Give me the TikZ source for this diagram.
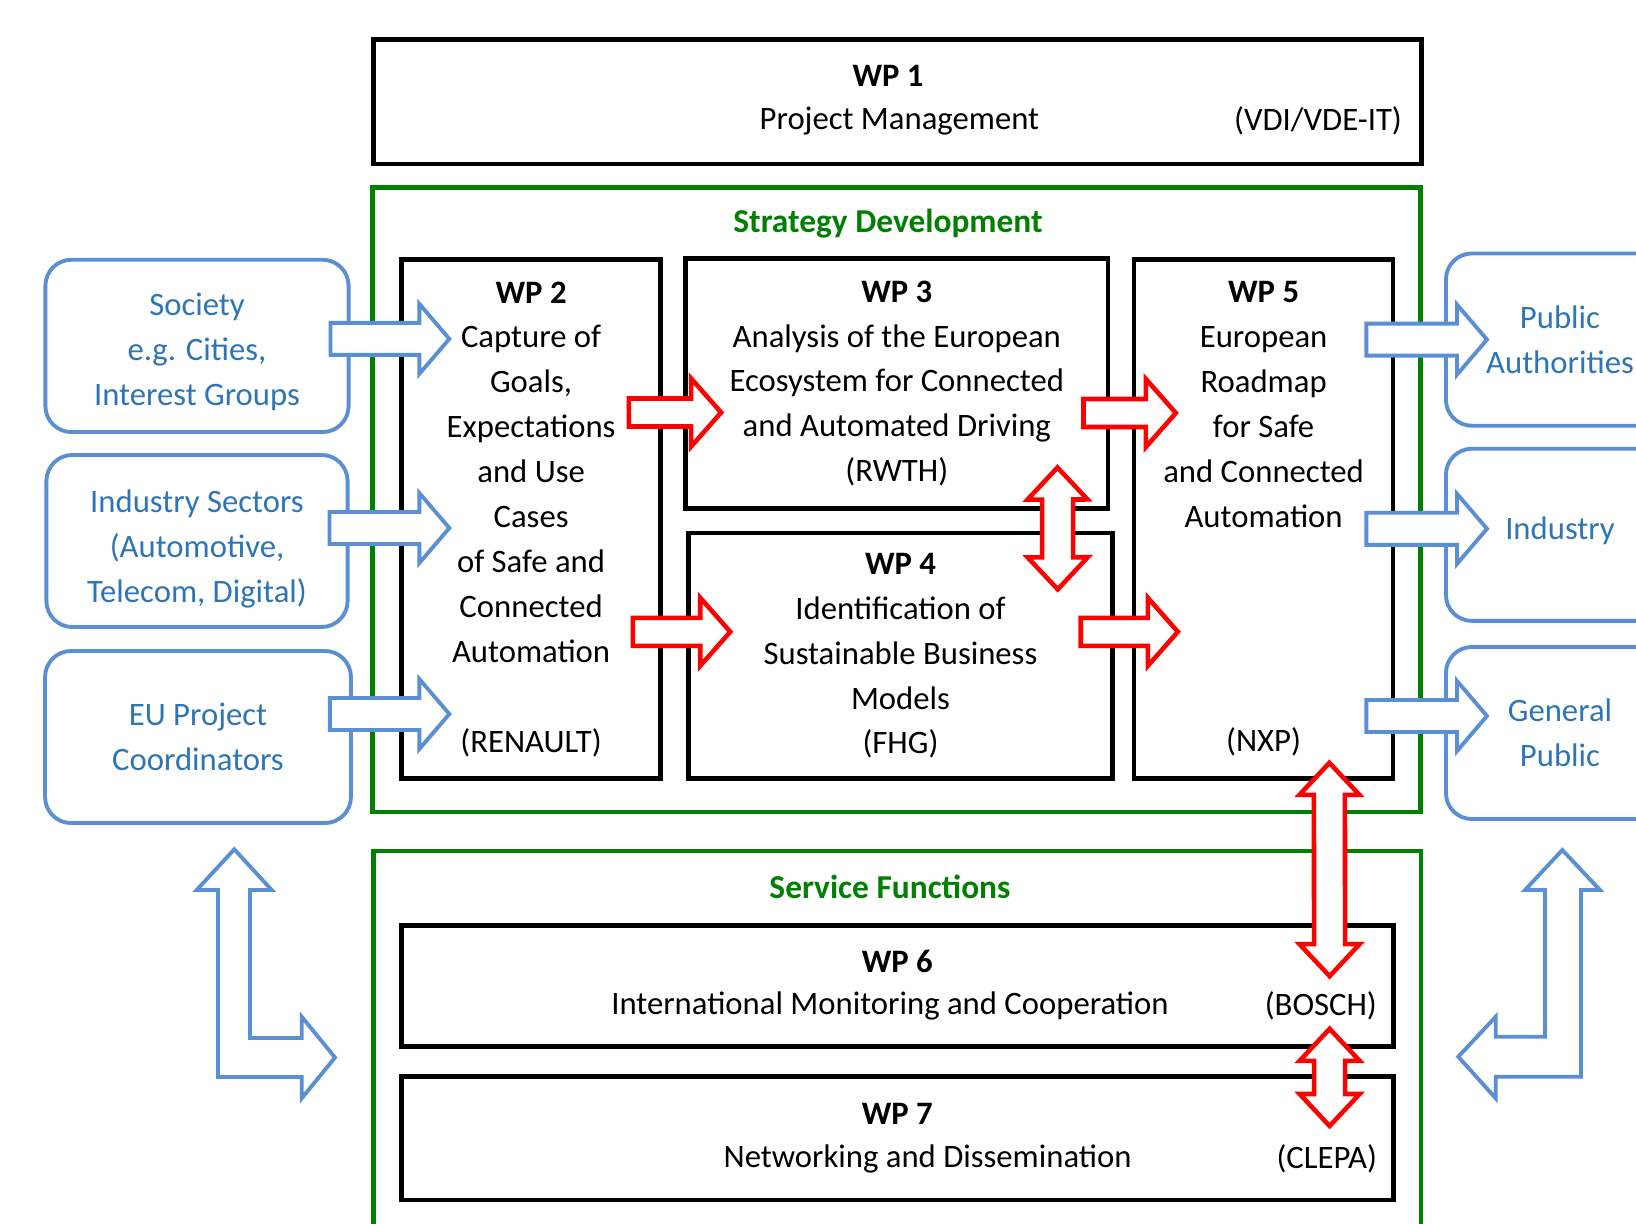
\documentclass[tikz,border=0pt]{standalone}
\usepackage{fontspec}
\setmainfont{Carlito}
\usetikzlibrary{calc}
\definecolor{wpgreen}{HTML}{008000}
\definecolor{stakeline}{HTML}{5B8FD4}
\definecolor{staketext}{HTML}{2E75B6}
\definecolor{flowred}{HTML}{FF0000}

% block arrow sizes (reset before each group)
\def\shaftw{0.16cm}\def\headw{0.35cm}\def\headl{0.30cm}

% #1 style, #2 start, #3 tip
\newcommand{\blockarrow}[3]{%
  \coordinate (bas) at (#2); \coordinate (bae) at (#3);
  \draw[#1] ($(bas)!\shaftw!90:(bae)$) -- ($(bae)!\headl!(bas)!\shaftw!-90:(bas)$)
    -- ($(bae)!\headl!(bas)!\headw!-90:(bas)$) -- (bae)
    -- ($(bae)!\headl!(bas)!\headw!90:(bas)$) -- ($(bae)!\headl!(bas)!\shaftw!90:(bas)$)
    -- ($(bas)!\shaftw!-90:(bae)$) -- cycle;}
% #1 style, #2 tip, #3 tip
\newcommand{\doubleblockarrow}[3]{%
  \coordinate (bas) at (#2); \coordinate (bae) at (#3);
  \draw[#1] (bas) -- ($(bas)!\headl!(bae)!\headw!90:(bae)$) -- ($(bas)!\headl!(bae)!\shaftw!90:(bae)$)
    -- ($(bae)!\headl!(bas)!\shaftw!-90:(bas)$) -- ($(bae)!\headl!(bas)!\headw!-90:(bas)$) -- (bae)
    -- ($(bae)!\headl!(bas)!\headw!90:(bas)$) -- ($(bae)!\headl!(bas)!\shaftw!90:(bas)$)
    -- ($(bas)!\headl!(bae)!\shaftw!-90:(bae)$) -- ($(bas)!\headl!(bae)!\headw!-90:(bae)$) -- cycle;}

\tikzset{
  wpbox/.style={draw, line width=1.3pt, align=center},
  frame/.style={draw=wpgreen, line width=1.3pt},
  frametitle/.style={text=wpgreen, font=\fontsize{9.5pt}{12.77pt}\selectfont\bfseries},
  stakebox/.style={draw=stakeline, line width=1.1pt, rounded corners=0.26cm, text=staketext, align=center},
  bluearrow/.style={draw=stakeline, fill=white, line width=1.1pt, line join=miter},
  redarrow/.style={draw=flowred, fill=white, line width=1.3pt, line join=miter},
  partner/.style={anchor=east, inner sep=0pt},
}

\begin{document}
\begin{tikzpicture}[x=0.01cm, y=-0.01cm, font=\fontsize{9.3pt}{12.77pt}\selectfont]
  \useasboundingbox (0,0) rectangle (1636,1224);

  % WP 1
  \node[wpbox, minimum width=10.475cm, minimum height=1.242cm] (wp1) at (897.3,101.7) {};
  \node (wp1t) at (888,76) {\textbf{WP 1}};
  \node (wp1d) at (899.4,121.5) {Project Management};
  \node[partner] (wp1p) at ($(wp1.east)+(-21,19.5)$) {(VDI/VDE-IT)};

  % strategy development
  \node[frame, minimum width=10.475cm, minimum height=6.24cm] (strat) at (896.3,499.8) {};
  \node[frametitle] (stratt) at (888,224) {Strategy Development};
  \node[wpbox, minimum width=2.588cm, minimum height=5.186cm] (wp2) at (531.1,519.1)
    {\textbf{WP 2}\\Capture of\\Goals,\\Expectations\\and Use\\Cases\\of Safe and\\Connected\\Automation\\[12.77pt](RENAULT)};
  \node[wpbox, minimum width=4.225cm, minimum height=2.493cm] (wp3) at (896.8,383.5)
    {\textbf{WP 3}\\Analysis of the European\\Ecosystem for Connected\\and Automated Driving\\(RWTH)};
  \node[wpbox, minimum width=4.237cm, minimum height=2.452cm] (wp4) at (900.5,655.8)
    {\textbf{WP 4}\\Identification of\\Sustainable Business\\Models\\(FHG)};
  \node[wpbox, minimum width=2.588cm, minimum height=5.186cm] (wp5) at (1263.6,519.1)
    {\textbf{WP 5}\\European\\Roadmap\\for Safe\\and Connected\\Automation\\[51.08pt](NXP)};

  % service functions
  \draw[frame] (373.5,1232) |- (1421,851) -- (1421,1232);
  \node[frametitle] (servt) at (890,886.5) {Service Functions};
  \node[wpbox, minimum width=9.913cm, minimum height=1.21cm] (wp6) at (897.4,986) {};
  \node (wp6t) at (897.3,961) {\textbf{WP 6}};
  \node (wp6d) at (890,1006) {International Monitoring and Cooperation};
  \node[partner] (wp6p) at ($(wp6.east)+(-18,20)$) {(BOSCH)};
  \node[wpbox, minimum width=9.913cm, minimum height=1.232cm] (wp7) at (897.4,1138.4) {};
  \node (wp7t) at (897.3,1113.5) {\textbf{WP 7}};
  \node (wp7d) at (927.6,1158.5) {Networking and Dissemination};
  \node[partner] (wp7p) at ($(wp7.east)+(-18,20)$) {(CLEPA)};

  % stakeholders
  \node[stakebox, minimum width=3.03cm, minimum height=1.722cm] (soc) at (197,345.9) {\rule{0pt}{10pt}Society\\e.g. Cities,\\Interest Groups};
  \node[stakebox, minimum width=3.01cm, minimum height=1.72cm] (ind) at (197,541) {\rule{0pt}{11pt}Industry Sectors\\(Automotive,\\Telecom, Digital)};
  \node[stakebox, minimum width=3.057cm, minimum height=1.72cm] (eu) at (198,737) {EU Project\\Coordinators};
  \node[stakebox, minimum width=2.28cm, minimum height=1.722cm] (pa) at (1560,339.6) {Public\\Authorities};
  \node[stakebox, minimum width=2.28cm, minimum height=1.721cm] (indu) at (1560,534.8) {Industry\rule[-3.6pt]{0pt}{0pt}};
  \node[stakebox, minimum width=2.28cm, minimum height=1.72cm] (gp) at (1560,733) {General\\Public};

  % input / output
  \def\shaftw{0.16cm}\def\headw{0.35cm}\def\headl{0.30cm}
  \blockarrow{bluearrow}{$(soc.east)+(-20,-7)$}{$(soc.east -| wp2.west)+(50,-7)$}
  \blockarrow{bluearrow}{$(ind.east)+(-20,-13)$}{$(ind.east -| wp2.west)+(50,-13)$}
  \blockarrow{bluearrow}{$(eu.east)+(-23,-23)$}{$(eu.east -| wp2.west)+(50,-23)$}
  \blockarrow{bluearrow}{$(pa.west -| wp5.east)+(-29,0)$}{$(pa.west)+(43,0)$}
  \blockarrow{bluearrow}{$(indu.west -| wp5.east)+(-29,-6)$}{$(indu.west)+(43,-6)$}
  \blockarrow{bluearrow}{$(gp.west -| wp5.east)+(-29,-17)$}{$(gp.west)+(43,-17)$}

  % flows between work packages
  \def\shaftw{0.14cm}\def\headw{0.34cm}\def\headl{0.30cm}
  \blockarrow{redarrow}{$(wp3.west -| wp2.east)+(-34,29)$}{$(wp3.west)+(38,29)$}
  \blockarrow{redarrow}{$(wp4.west -| wp2.east)+(-30,-24)$}{$(wp4.west)+(44,-24)$}
  \blockarrow{redarrow}{$(wp3.east)+(-27,29.5)$}{$(wp3.east -| wp5.west)+(44,29.5)$}
  \blockarrow{redarrow}{$(wp4.east)+(-34,-24)$}{$(wp4.east -| wp5.west)+(46,-24)$}
  \def\shaftw{0.155cm}\def\headw{0.30cm}\def\headl{0.32cm}
  \doubleblockarrow{redarrow}{$(wp3.south east)+(-53,-43)$}{$(wp4.north east)+(-57,58.5)$}
  \doubleblockarrow{redarrow}{$(wp5.south east)+(-66,-18)$}{$(wp6.north east)+(-66,53)$}
  \doubleblockarrow{redarrow}{$(wp6.south east)+(-66,-20)$}{$(wp7.north east)+(-66,51.5)$}

  % bent arrows at the bottom
  \draw[bluearrow] (234.3,849.3) -- (271.7,890) -- (250,890) -- (250,1038) -- (301.7,1038)
    -- (301.7,1016.7) -- (335,1057.5) -- (301.7,1098.3) -- (301.7,1077) -- (218,1077)
    -- (218,890) -- (196.7,890) -- cycle;
  \draw[bluearrow] (1562.3,850) -- (1600,890) -- (1581,890) -- (1581,1076.7) -- (1495.7,1076.7)
    -- (1495.7,1098.3) -- (1458.3,1056.7) -- (1495.7,1016.7) -- (1495.7,1036.7) -- (1545,1036.7)
    -- (1545,890) -- (1525,890) -- cycle;
\end{tikzpicture}
\end{document}
